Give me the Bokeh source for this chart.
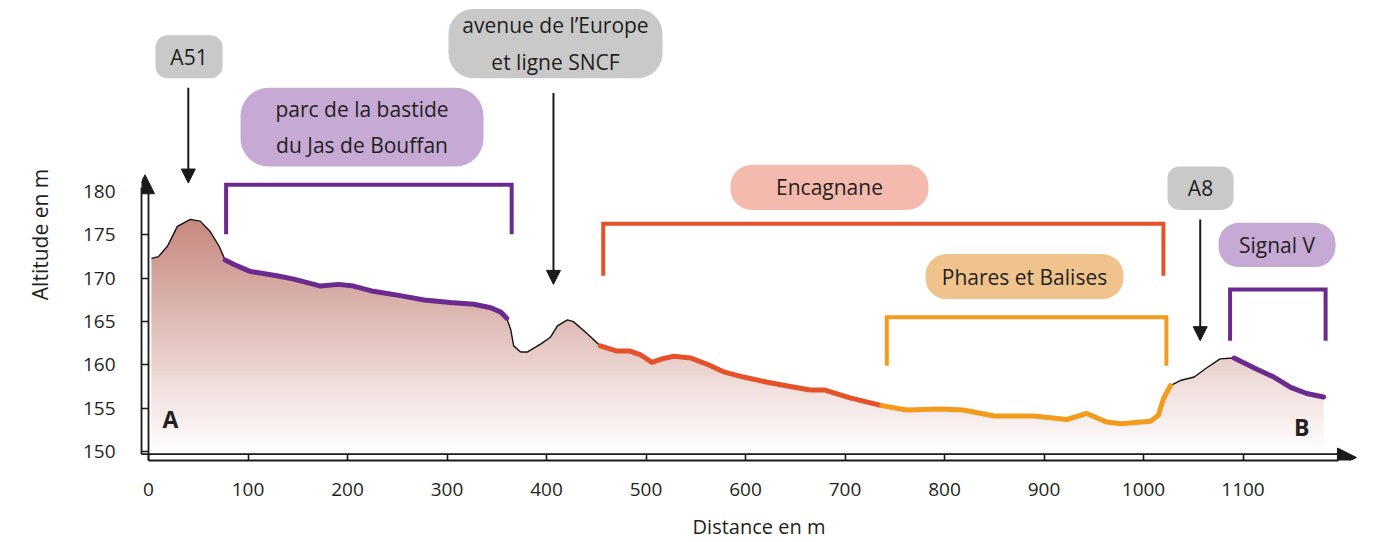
from bokeh.plotting import figure
from bokeh.models import (FixedTicker, Range1d, BoxAnnotation, Label, Arrow,
                          NormalHead, ColumnDataSource)
from bokeh.embed import file_html
from bokeh.resources import INLINE

# ---------------- data ----------------
distance = [3, 10, 19, 29, 42, 52, 62, 71, 77, 86,
            102, 129, 146, 173, 191, 206, 226, 253, 277, 303,
            327, 344, 354, 360, 364, 367, 374, 381, 394, 404,
            411, 421, 427, 441, 454, 471, 484, 494, 506, 516,
            528, 545, 561, 578, 598, 622, 645, 665, 680, 705,
            737, 762, 796, 819, 850, 890, 923, 943, 963, 977,
            1007, 1015, 1020, 1027, 1037, 1051, 1064, 1077, 1091, 1114,
            1131, 1148, 1164, 1181]
altitude = [172.3, 172.5, 173.7, 176.0, 176.8, 176.6, 175.4, 173.7, 172.1, 171.6,
            170.8, 170.3, 169.9, 169.1, 169.3, 169.1, 168.5, 168.0, 167.5, 167.2,
            167.0, 166.6, 166.1, 165.4, 164.1, 162.2, 161.5, 161.5, 162.4, 163.2,
            164.5, 165.2, 165.0, 163.6, 162.2, 161.6, 161.6, 161.2, 160.3, 160.7,
            161.0, 160.8, 160.1, 159.2, 158.6, 158.0, 157.5, 157.1, 157.1, 156.2,
            155.3, 154.8, 154.9, 154.8, 154.1, 154.1, 153.7, 154.4, 153.4, 153.2,
            153.5, 154.2, 156.1, 157.6, 158.2, 158.6, 159.7, 160.7, 160.8, 159.5,
            158.6, 157.4, 156.7, 156.3]

x_ticks = [0, 100, 200, 300, 400, 500, 600, 700, 800, 900, 1000, 1100]
y_ticks = [150, 155, 160, 165, 170, 175, 180]

PURPLE = "#6b2a8f"
RED = "#e5522a"
ORANGE = "#f39b1d"

# coloured stretches of the profile (distance from / to)
segment_start = [77, 454, 737, 1091]
segment_end = [360, 737, 1027, 1181]
segment_color = [PURPLE, RED, ORANGE, PURPLE]

# zones (brackets)
zone_names = ["parc de la bastide\ndu Jas de Bouffan", "Encagnane",
              "Phares et Balises", "Signal V"]
zone_start = [78, 457, 742, 1087]
zone_end = [365, 1020, 1023, 1183]
zone_top = [180.8, 176.3, 165.5, 168.7]
zone_leg = [175.1, 170.3, 159.9, 162.8]
zone_color = [PURPLE, RED, ORANGE, PURPLE]
zone_box_color = ["#c7a9d5", "#f4baad", "#efc38b", "#c7a9d5"]
zone_box_left = [92.5, 584.9, 780.9, 1075.4]
zone_box_right = [336.7, 783.9, 979.9, 1193.0]
zone_box_bottom = [182.9, 177.9, 167.6, 171.3]
zone_box_top = [192.0, 183.1, 172.8, 176.4]
zone_box_radius = [28, 21, 21, 20]

# landmarks (arrows)
landmark_names = ["A51", "avenue de l\u2019Europe\net ligne SNCF", "A8"]
landmark_x = [40, 407, 1057]
landmark_from = [192.0, 191.4, 176.8]
landmark_tip = [181.0, 169.3, 162.8]
landmark_box_left = [7.0, 301.5, 1024.1]
landmark_box_right = [74.4, 516.6, 1090.5]
landmark_box_bottom = [193.1, 193.1, 177.9]
landmark_box_top = [198.05, 201.1, 182.9]
landmark_box_radius = [12, 25, 12]

# ---------------- geometry ----------------
FIG_W, FIG_H = 1376, 542
LEFT, TOP, BOTTOM = 141, 8, 80
XS = 0.995   # px per metre of distance
YS = 8.7     # px per metre of altitude
FRAME_W = FIG_W - LEFT
FRAME_H = FIG_H - TOP - BOTTOM
x_start = -7 / XS
x_end = x_start + FRAME_W / XS
y_start = 150 - 9 / YS
y_end = y_start + FRAME_H / YS
inner_x_line = 150 - 2.5 / YS
x_axis_end = 1196
y_axis_end = 180.5

FONT = "Open Sans"
TXT = "#231f20"

p = figure(width=FIG_W, height=FIG_H, x_range=Range1d(x_start, x_end),
           y_range=Range1d(y_start, y_end), output_backend="svg",
           toolbar_location=None, title=None,
           min_border_left=LEFT, min_border_right=0, min_border_top=TOP,
           min_border_bottom=BOTTOM)
p.outline_line_color = None
p.grid.visible = False
p.background_fill_color = "white"
p.border_fill_color = "white"

# ---- filled profile with vertical gradient ----
# opaque horizontal bands (white -> rosy brown), then the sky above the
# profile is masked in white
base = 150 - 2 / YS
top_alt = 177.2
dark = (197, 134, 124)
step = 1 / YS
overlap = 0.6 / YS
bb, bt, bc = [], [], []
b = base
while b < top_alt:
    c = b + step / 2
    t = min(max((c - base) / (top_alt - base), 0.0), 1.0)
    rgb = tuple(int(round(255 * (1 - t) + d * t)) for d in dark)
    bb.append(b)
    bt.append(b + step + overlap)
    bc.append("#%02x%02x%02x" % rgb)
    b += step
src = ColumnDataSource(dict(left=[distance[0]] * len(bb),
                            right=[distance[-1]] * len(bb),
                            bottom=bb, top=bt, color=bc))
p.quad(left="left", right="right", bottom="bottom", top="top", source=src,
       fill_color="color", line_alpha=0)
p.varea(x=distance, y1=altitude, y2=[top_alt + 1] * len(distance),
        fill_color="white")
# clean the antialiased band edges left above the profile's two ends
p.segment(x0=[distance[0], distance[-1]], y0=[altitude[0], altitude[-1]],
          x1=[distance[0], distance[-1]], y1=[top_alt + 1, top_alt + 1],
          line_color="white", line_width=2.5)

# ---- profile line ----
p.line(distance, altitude, line_color="#111111", line_width=1.4)
for s, e, col in zip(segment_start, segment_end, segment_color):
    xs = [d for d in distance if s <= d <= e]
    ys = [a for d, a in zip(distance, altitude) if s <= d <= e]
    p.line(xs, ys, line_color=col, line_width=5, line_cap="round",
           line_join="round")

# ---- brackets ----
for s, e, tp, lg, col in zip(zone_start, zone_end, zone_top, zone_leg, zone_color):
    p.line([s, s, e, e], [lg, tp, tp, lg], line_color=col, line_width=4,
           line_join="miter")

# ---- axes ----
AX = "#1a1a1a"
xa = p.xaxis[0]
xa.ticker = FixedTicker(ticks=x_ticks)
xa.bounds = (0, x_axis_end)
xa.axis_line_width = 1.8
xa.axis_line_color = AX
xa.major_tick_in = 6
xa.major_tick_out = 0
xa.major_tick_line_width = 1.6
xa.major_tick_line_color = AX
xa.minor_tick_line_color = None
xa.major_label_standoff = 22
xa.major_label_text_font = FONT
xa.major_label_text_font_size = "19px"
xa.major_label_text_color = TXT
xa.axis_label = "Distance en m"
xa.axis_label_standoff = 14
xa.axis_label_text_font = FONT
xa.axis_label_text_font_size = "20px"
xa.axis_label_text_font_style = "normal"
xa.axis_label_text_color = TXT

ya = p.yaxis[0]
ya.ticker = FixedTicker(ticks=y_ticks)
ya.bounds = (inner_x_line, y_axis_end)
ya.axis_line_width = 1.8
ya.axis_line_color = AX
ya.major_tick_in = 7
ya.major_tick_out = 0
ya.major_tick_line_width = 1.6
ya.major_tick_line_color = AX
ya.minor_tick_line_color = None
ya.major_label_standoff = 26
ya.major_label_text_font = FONT
ya.major_label_text_font_size = "19px"
ya.major_label_text_color = TXT
ya.axis_label = "Altitude en m"
ya.axis_label_standoff = 26
ya.axis_label_text_font = FONT
ya.axis_label_text_font_size = "21px"
ya.axis_label_text_font_style = "normal"
ya.axis_label_text_color = TXT

# second (inner) lines of the double axes
p.segment(x0=[0, x_start], y0=[y_start, inner_x_line],
          x1=[0, x_axis_end], y1=[y_axis_end, inner_x_line],
          line_color=AX, line_width=1.8)

# axis arrowheads
p.add_layout(Arrow(end=NormalHead(size=19, fill_color=AX, line_color=AX),
                   x_start=-3.5, y_start=y_axis_end - 1, x_end=-3.5,
                   y_end=150 + 278 / YS, line_alpha=0))
p.add_layout(Arrow(end=NormalHead(size=19, fill_color=AX, line_color=AX),
                   x_start=x_axis_end - 10, y_start=150 - 6 / YS,
                   x_end=x_axis_end + 18, y_end=150 - 6 / YS, line_alpha=0))

# ---- zone label boxes ----
for name, l, r, bt_, tp, col, rad in zip(zone_names, zone_box_left, zone_box_right,
                                         zone_box_bottom, zone_box_top,
                                         zone_box_color, zone_box_radius):
    p.add_layout(BoxAnnotation(left=l, right=r, bottom=bt_, top=tp,
                               fill_color=col, fill_alpha=1, line_alpha=0,
                               border_radius=rad))
    p.add_layout(Label(x=(l + r) / 2, y=(bt_ + tp) / 2, text=name,
                       text_align="center", text_baseline="middle",
                       text_font=FONT, text_font_size="21px",
                       text_color=TXT, text_line_height=1.3))

# ---- landmarks ----
for name, x, f, tip, l, r, bt_, tp, rad in zip(landmark_names, landmark_x,
                                               landmark_from, landmark_tip,
                                               landmark_box_left, landmark_box_right,
                                               landmark_box_bottom, landmark_box_top,
                                               landmark_box_radius):
    p.add_layout(BoxAnnotation(left=l, right=r, bottom=bt_, top=tp,
                               fill_color="#c9c9c9", fill_alpha=1, line_alpha=0,
                               border_radius=rad))
    p.add_layout(Label(x=(l + r) / 2, y=(bt_ + tp) / 2, text=name,
                       text_align="center", text_baseline="middle",
                       text_font=FONT, text_font_size="21px",
                       text_color=TXT, text_line_height=1.3))
    p.add_layout(Arrow(end=NormalHead(size=14, fill_color=AX, line_color=AX),
                       x_start=x, y_start=f, x_end=x, y_end=tip,
                       line_color=AX, line_width=2))

# ---- A / B ----
for name, x, y in zip(["A", "B"], [distance[0] + 19, distance[-1] - 22],
                      [153.8, 152.8]):
    p.add_layout(Label(x=x, y=y, text=name, text_align="center",
                       text_baseline="middle", text_font=FONT,
                       text_font_size="23px", text_font_style="bold",
                       text_color=TXT))

open("out.html", "w").write(file_html(p, INLINE))
